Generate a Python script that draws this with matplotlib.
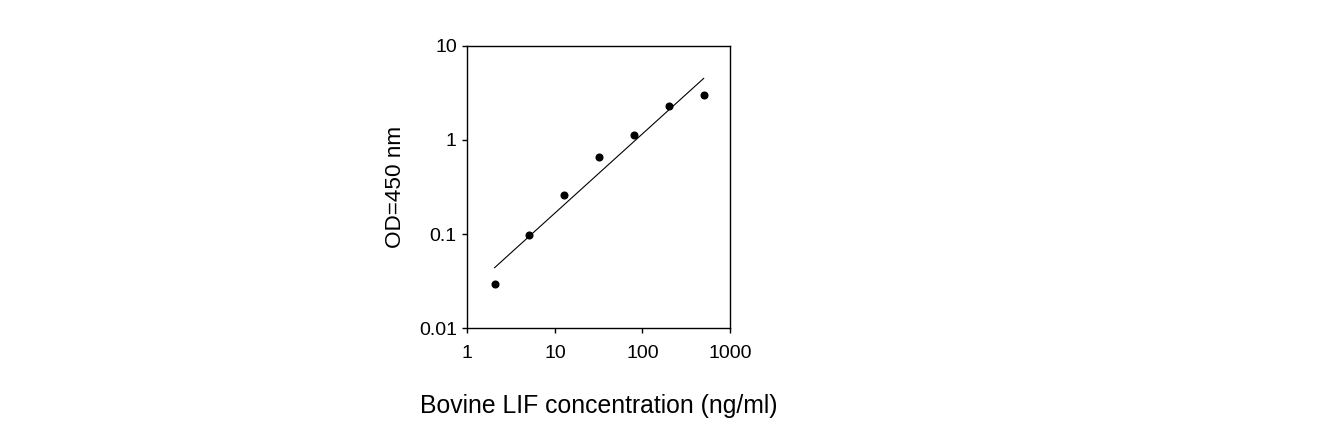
import matplotlib
matplotlib.use("Agg")
import matplotlib.pyplot as plt
from matplotlib.ticker import FixedLocator, FixedFormatter, NullLocator

plt.rcParams['font.family'] = ['Liberation Sans', 'DejaVu Sans']

conc = [2.048, 5.12, 12.8, 32, 80, 200, 500]
od = [0.0295, 0.097, 0.262, 0.653, 1.135, 2.27, 2.99]
fit_x = [2.048, 500]
fit_y = [0.044, 4.5]
x_ticks = [1, 10, 100, 1000]
x_labels = ['1', '10', '100', '1000']
y_ticks = [0.01, 0.1, 1, 10]
y_labels = ['0.01', '0.1', '1', '10']

fig = plt.figure(figsize=(13.31, 4.43), dpi=100)
ax = fig.add_axes([0.3511, 0.2589, 0.1974, 0.6379])
ax.set_xscale('log')
ax.set_yscale('log')
ax.set_xlim(1, 1000)
ax.set_ylim(0.01, 10)

ax.plot(fit_x, fit_y, color='black', linewidth=0.8)
ax.plot(conc, od, 'o', color='black', markersize=4.8)

ax.xaxis.set_major_locator(FixedLocator(x_ticks))
ax.xaxis.set_major_formatter(FixedFormatter(x_labels))
ax.yaxis.set_major_locator(FixedLocator(y_ticks))
ax.yaxis.set_major_formatter(FixedFormatter(y_labels))
ax.xaxis.set_minor_locator(NullLocator())
ax.yaxis.set_minor_locator(NullLocator())
ax.tick_params(axis='both', direction='out', length=3.6, width=1, labelsize=14)
ax.tick_params(axis='x', pad=8.5)
ax.tick_params(axis='y', pad=4)
for s in ax.spines.values():
    s.set_linewidth(1)

ax.set_xlabel('Bovine LIF concentration (ng/ml)', fontsize=17.8, labelpad=23)
ax.set_ylabel('OD=450 nm', fontsize=16.2, labelpad=9)

fig.savefig('out.png', dpi=100)
